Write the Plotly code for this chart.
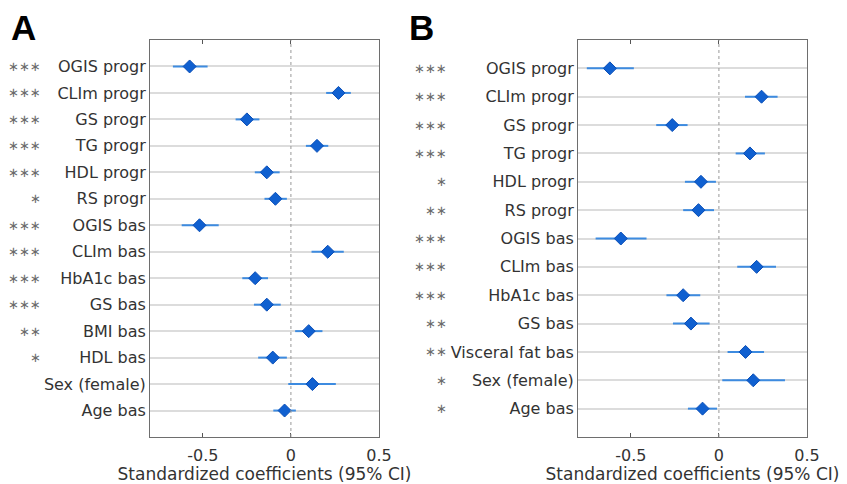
import plotly.graph_objects as go

# Panel A
labels_a = ["OGIS progr", "CLIm progr", "GS progr", "TG progr", "HDL progr", "RS progr",
            "OGIS bas", "CLIm bas", "HbA1c bas", "GS bas", "BMI bas", "HDL bas",
            "Sex (female)", "Age bas"]
stars_a = ["***", "***", "***", "***", "***", "*", "***", "***", "***", "***", "**", "*", "", ""]
coef_a = [-0.575, 0.27, -0.25, 0.148, -0.137, -0.088, -0.519, 0.209, -0.203, -0.137,
          0.101, -0.103, 0.122, -0.036]
lo_a = [-0.67, 0.20, -0.314, 0.085, -0.205, -0.15, -0.62, 0.117, -0.276, -0.21,
        0.024, -0.186, -0.015, -0.10]
hi_a = [-0.473, 0.34, -0.179, 0.212, -0.064, -0.023, -0.41, 0.30, -0.13, -0.058,
        0.179, -0.023, 0.255, 0.028]

# Panel B
labels_b = ["OGIS progr", "CLIm progr", "GS progr", "TG progr", "HDL progr", "RS progr",
            "OGIS bas", "CLIm bas", "HbA1c bas", "GS bas", "Visceral fat bas",
            "Sex (female)", "Age bas"]
stars_b = ["***", "***", "***", "***", "*", "**", "***", "***", "***", "**", "**", "*", "*"]
coef_b = [-0.619, 0.242, -0.265, 0.176, -0.102, -0.116, -0.557, 0.214, -0.203, -0.159,
          0.151, 0.195, -0.093]
lo_b = [-0.75, 0.148, -0.356, 0.095, -0.193, -0.203, -0.70, 0.104, -0.298, -0.261,
        0.049, 0.019, -0.176]
hi_b = [-0.483, 0.333, -0.178, 0.261, -0.017, -0.028, -0.411, 0.324, -0.106, -0.053,
        0.256, 0.375, -0.011]

xticks = [-0.5, 0, 0.5]
xticktext = ["-0.5", "0", "0.5"]

# page body adds an 8px margin, so the figure is laid out 8px up/left
OFF = 8
W, H = 847 - OFF, 484 - OFF
FONT = "DejaVu Sans"
BAR = "#3d8be0"
DIAM = "#1060d0"

fig = go.Figure()

panels = [
    ("x", "y", labels_a, stars_a, coef_a, lo_a, hi_a, (150, 379), 42, "A", 10),
    ("x2", "y2", labels_b, stars_b, coef_b, lo_b, hi_b, (578, 807), 448, "B", 408),
]

top_px, bot_px = 40 - OFF, 437 - OFF
annotations = []
shapes = []

for xa, ya, labels, stars, coef, lo, hi, (x0, x1), star_x, letter, letter_x in panels:
    n = len(labels)
    pos = list(range(1, n + 1))
    fig.add_trace(go.Scatter(
        x=coef, y=pos, xaxis=xa, yaxis=ya, mode="markers",
        marker=dict(symbol="diamond", size=10, color=DIAM,
                    line=dict(color="#0a4fb8", width=1)),
        error_x=dict(type="data", symmetric=False,
                     array=[h - c for h, c in zip(hi, coef)],
                     arrayminus=[c - l for c, l in zip(coef, lo)],
                     color=BAR, thickness=2, width=0),
        showlegend=False, hoverinfo="skip",
    ))
    dom_x = [(x0 - OFF) / W, (x1 - OFF) / W]
    dom_y = [1 - bot_px / H, 1 - top_px / H]
    suffix = "" if xa == "x" else "2"
    fig.update_layout(**{
        "xaxis" + suffix: dict(
            domain=dom_x, range=[-0.8, 0.5], anchor=ya, automargin=False,
            tickvals=xticks, ticktext=xticktext, ticks="inside", ticklen=4,
            tickcolor="#555", showgrid=False, zeroline=False, ticklabelstandoff=4,
            showline=True, linecolor="#6e6e6e", linewidth=1, mirror="allticks",
            tickfont=dict(family=FONT, size=16, color="#333"),
            title=dict(text="Standardized coefficients (95% CI)",
                       font=dict(family=FONT, size=17, color="#333"), standoff=2),
        ),
        "yaxis" + suffix: dict(
            domain=dom_y, range=[n + 1, 0], anchor=xa, automargin=False,
            tickvals=pos, ticktext=labels, ticks="",
            showgrid=True, gridcolor="#dcdcdc", gridwidth=1.5, zeroline=False,
            showline=True, linecolor="#6e6e6e", linewidth=1, mirror=True,
            tickfont=dict(family=FONT, size=16, color="#333"),
        ),
    })
    # dotted zero line
    shapes.append(dict(type="line", xref=xa, yref=ya + " domain", x0=0, x1=0, y0=0, y1=1,
                       line=dict(color="#999", width=1, dash="dot")))
    for p, s in zip(pos, stars):
        if s:
            annotations.append(dict(
                xref="paper", yref=ya, x=(star_x - OFF) / W, y=p, xanchor="right",
                yanchor="middle", text="\u2217" * len(s), showarrow=False, borderpad=0,
                font=dict(family=FONT, size=13, color="#6a6a6a"),
            ))
    annotations.append(dict(
        xref="paper", yref="paper", x=(letter_x - OFF - 1) / W, y=1 - (27.5 - OFF) / H,
        xanchor="left", yanchor="middle",
        text="<b>" + letter + "</b>", showarrow=False,
        font=dict(family="Liberation Sans", size=35, color="#000"),
    ))

fig.update_layout(
    width=W, height=H, margin=dict(l=0, r=0, t=0, b=0),
    paper_bgcolor="white", plot_bgcolor="white",
    annotations=annotations, shapes=shapes,
)

fig.write_html("out.html")
